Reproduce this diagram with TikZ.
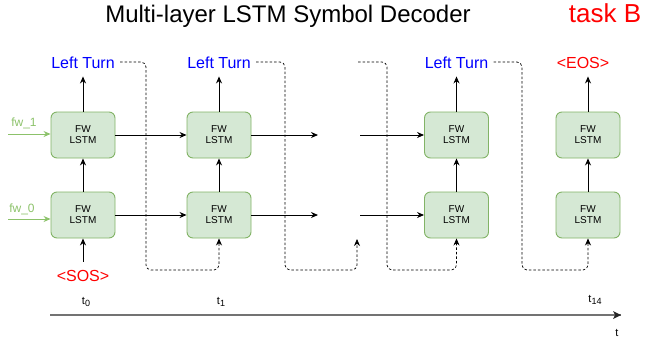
\documentclass[tikz,border=0pt]{standalone}
\usepackage{fontspec}
\setmainfont{Liberation Sans}
\usetikzlibrary{arrows.meta}
\definecolor{cellfill}{HTML}{D5E8D4}
\definecolor{celldraw}{HTML}{82B366}
\definecolor{fwgreen}{HTML}{8CC26A}
\newcommand{\tsub}[1]{t\raisebox{-2.5pt}{\fontsize{9}{9}\selectfont #1}}
\begin{document}
\begin{tikzpicture}[x=1pt,y=-1pt, line width=0.9pt, >={Stealth[length=7pt,width=6pt]},
  cell/.style={draw=celldraw, fill=cellfill, rounded corners=6pt, minimum width=64pt, minimum height=46pt, align=center, font=\fontsize{10}{11}\selectfont},
  word/.style={font=\fontsize{16}{18}\selectfont, text height=12pt, text depth=0pt, inner xsep=5pt, inner ysep=8pt},
  feed/.style={->, line width=0.7pt, dash pattern=on 2.5pt off 2pt, rounded corners=5pt},
  fw/.style={fwgreen, font=\fontsize{12}{14}\selectfont},
  tick/.style={font=\fontsize{11}{13}\selectfont}]
\useasboundingbox (0,0) rectangle (646,338);
\node (title) at (288,16) {\fontsize{24}{28}\selectfont Multi-layer LSTM Symbol Decoder};
\node (task) at (605,13) [red] {\fontsize{26}{30}\selectfont task B};
\node (l1c0) at (83,135) [cell] {FW\\LSTM};
\node (l0c0) at (83,215) [cell] {FW\\LSTM};
\node (l1c1) at (219,135) [cell] {FW\\LSTM};
\node (l0c1) at (219,215) [cell] {FW\\LSTM};
\node (l1c2) at (456.5,135) [cell] {FW\\LSTM};
\node (l0c2) at (456.5,215) [cell] {FW\\LSTM};
\node (l1c3) at (588,135) [cell] {FW\\LSTM};
\node (l0c3) at (588,215) [cell] {FW\\LSTM};
\node (o0) at (83,62) [word, blue] {Left Turn};
\node (o1) at (219,62) [word, blue] {Left Turn};
\node (o2) at (456.5,62) [word, blue] {Left Turn};
\node (o3) at (583,62) [word, red] {<EOS>};
\node (sos) at (83,275) [word, red, inner ysep=7pt] {<SOS>};
\node (fw1) at (24,123) [fw] {fw\_1};
\node (fw0) at (22,209) [fw] {fw\_0};
\coordinate (in1) at (8,134);
\coordinate (in0) at (8,219);
\coordinate (e1) at (318,135);
\coordinate (e0) at (318,215);
\coordinate (s1) at (360,135);
\coordinate (s0) at (360,215);
\coordinate (k0) at (146,270);
\coordinate (k1) at (285,270);
\coordinate (k2) at (387,270);
\coordinate (k3) at (522,270);
\coordinate (g0) at (357,239);
\coordinate (h0) at (358,62);
\draw[->, fwgreen] (in1) -- (in1 -| l1c0.west);
\draw[->, fwgreen] (in0) -- (in0 -| l0c0.west);
\draw[->] (sos) -- (l0c0);
\draw[->] (l0c0) -- (l1c0);
\draw[->] (l0c1) -- (l1c1);
\draw[->] (l0c2) -- (l1c2);
\draw[->] (l0c3) -- (l1c3);
\draw[->] (l1c0) -- (o0);
\draw[->] (l1c1) -- (o1);
\draw[->] (l1c2) -- (o2);
\draw[->] (l1c3) -- (o3.south -| l1c3);
\draw[->] (l1c0) -- (l1c1);
\draw[->] (l0c0) -- (l0c1);
\draw[->] (l1c1) -- (e1);
\draw[->] (l0c1) -- (e0);
\draw[->] (s1) -- (l1c2);
\draw[->] (s0) -- (l0c2);
\draw[feed] (o0.east) -| (k0) -| (l0c1.south);
\draw[feed] (o1.east) -| (k1) -| (g0);
\draw[feed] (h0) -| (k2) -| (l0c2.south);
\draw[feed] (o2.east) -| (k3) -| (l0c3.south);
\coordinate (ax0) at (50,315);
\coordinate (ax1) at (621,315);
\draw[black!55, line width=1.5pt] (ax0) -- (ax1);
\fill[black!85] (ax1) -- ++(-8,-4) -- ++(2,4) -- ++(-2,4) -- cycle;
\node (t0) at (86,302) [tick] {\tsub{0}};
\node (t1) at (221,302) [tick] {\tsub{1}};
\node (t14) at (595,300) [tick] {\tsub{14}};
\node (t) at (617,333) [tick] {t};
\end{tikzpicture}
\end{document}
